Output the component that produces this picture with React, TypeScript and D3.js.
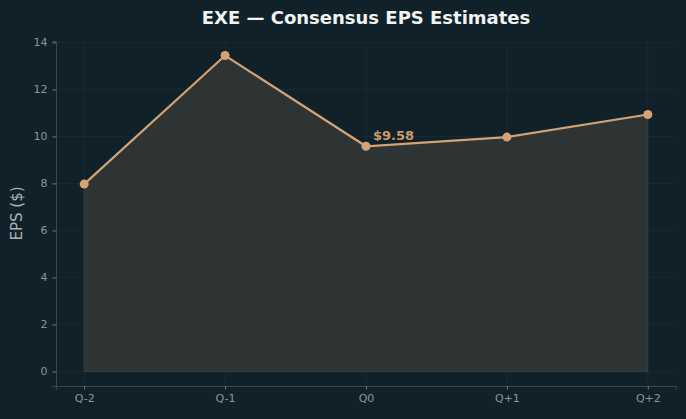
import React from 'react';
import * as d3 from 'd3';

const quarters = ['Q-2', 'Q-1', 'Q0', 'Q+1', 'Q+2'];
const epsValues = [7.97, 13.44, 9.58, 9.97, 10.93];
const yTicks = [0, 2, 4, 6, 8, 10, 12, 14];
const highlightIndex = 2;

const W = 686;
const H = 419;
const margin = { top: 41, right: 10, bottom: 33, left: 56 };

const App = () => {
  const ref = React.useRef<SVGSVGElement>(null);

  React.useEffect(() => {
    const svg = d3.select(ref.current);
    svg.selectAll('*').remove();

    const innerW = W - margin.left - margin.right;
    const innerH = H - margin.top - margin.bottom;
    const font = 'DejaVu Sans, sans-serif';

    svg.append('rect').attr('width', W).attr('height', H).attr('fill', '#10212a');

    const x = d3.scaleLinear().domain([-0.2, quarters.length - 1 + 0.2]).range([0, innerW]);
    const yMax = d3.max(epsValues) as number;
    const pad = yMax * 0.046;
    const y = d3.scaleLinear().domain([-pad, yMax + pad]).range([innerH, 0]);

    const g = svg.append('g').attr('transform', `translate(${margin.left},${margin.top})`);

    // grid
    g.selectAll('.gy').data(yTicks).enter().append('line')
      .attr('x1', 0).attr('x2', innerW)
      .attr('y1', d => y(d)).attr('y2', d => y(d))
      .attr('stroke', '#1c2c33').attr('stroke-width', 0.8);
    g.selectAll('.gx').data(quarters).enter().append('line')
      .attr('x1', (d, i) => x(i)).attr('x2', (d, i) => x(i))
      .attr('y1', 0).attr('y2', innerH)
      .attr('stroke', '#1c2c33').attr('stroke-width', 0.8);

    const area = d3.area<number>()
      .x((d, i) => x(i))
      .y0(y(0))
      .y1(d => y(d));

    g.append('path')
      .datum(epsValues)
      .attr('d', area)
      .attr('fill', '#2e3434')
      .attr('stroke', '#3a3f3c')
      .attr('stroke-width', 1);

    const line = d3.line<number>().x((d, i) => x(i)).y(d => y(d));
    g.append('path')
      .datum(epsValues)
      .attr('d', line)
      .attr('fill', 'none')
      .attr('stroke', '#d4a373')
      .attr('stroke-width', 2.2);

    g.selectAll('.dot').data(epsValues).enter().append('circle')
      .attr('cx', (d, i) => x(i))
      .attr('cy', d => y(d))
      .attr('r', 4.5)
      .attr('fill', '#d4a373');

    g.append('text')
      .attr('x', x(highlightIndex) + 7)
      .attr('y', y(epsValues[highlightIndex]) - 6)
      .attr('fill', '#c9996b')
      .attr('font-family', font)
      .attr('font-weight', 'bold')
      .attr('font-size', 13)
      .text(`$${epsValues[highlightIndex].toFixed(2)}`);

    // axes
    const yAxis = g.append('g').call(
      d3.axisLeft(y).tickValues(yTicks).tickSize(3.5).tickPadding(5).tickFormat(d3.format('d'))
    );
    const xAxis = g.append('g').attr('transform', `translate(0,${innerH})`).call(
      d3.axisBottom(x).tickValues(d3.range(quarters.length)).tickSize(3.5).tickPadding(5)
        .tickFormat((d) => quarters[d as number])
    );
    [yAxis, xAxis].forEach(a => {
      a.select('.domain').attr('stroke', '#3b4649');
      a.selectAll('.tick line').attr('stroke', '#6c777a');
      a.selectAll('.tick text').attr('fill', '#8c969a').attr('font-size', 11).attr('font-family', font);
    });

    svg.append('text')
      .attr('transform', `translate(22,${margin.top + innerH / 2}) rotate(-90)`)
      .attr('text-anchor', 'middle')
      .attr('fill', '#a9b2b5')
      .attr('font-family', font)
      .attr('font-size', 15)
      .text('EPS ($)');

    svg.append('text')
      .attr('x', margin.left + innerW / 2)
      .attr('y', 24)
      .attr('text-anchor', 'middle')
      .attr('fill', '#f2f2f0')
      .attr('font-family', font)
      .attr('font-weight', 'bold')
      .attr('font-size', 18)
      .text('EXE — Consensus EPS Estimates');
  }, []);

  return (
    <svg ref={ref} width={W} height={H} style={{ position: 'absolute', left: 0, top: 0 }} />
  );
};

export default App;
